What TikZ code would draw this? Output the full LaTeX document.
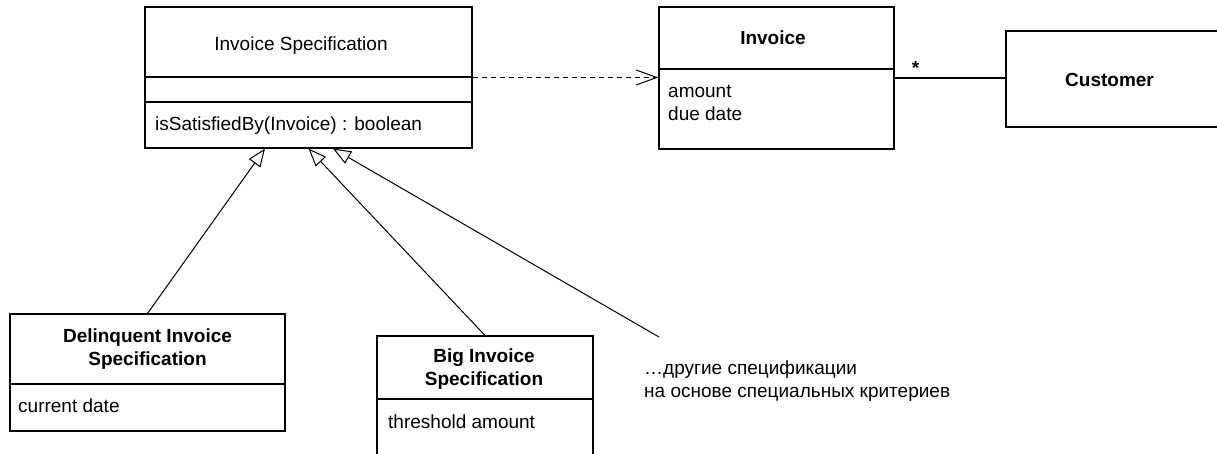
\documentclass[tikz,border=0pt]{standalone}
\usepackage{fontspec}
\setmainfont{Liberation Sans}
\usetikzlibrary{arrows.meta,positioning}

\begin{document}
\begin{tikzpicture}[x=1pt,y=-1pt,
    every node/.style={inner sep=0pt, font=\fontsize{19}{22.5}\selectfont},
    bold/.style={font=\fontsize{19}{22.5}\selectfont\bfseries},
    classbox/.style={draw, line width=1.1pt, rectangle},
    gen/.style={line width=1pt, -{Triangle[open, length=18pt, width=14pt, line width=1pt]}},
    dep/.style={line width=1pt, dash pattern=on 5pt off 4pt, -{Straight Barb[length=21pt, width=15pt, line width=1pt]}},
    assoc/.style={line width=1.1pt}]
        \clip (0,0) rectangle (1217,453);

        % classes
        \node[classbox, minimum width=327pt, minimum height=141pt] (spec) at (308.5,77.5) {};
        \node[classbox, minimum width=235pt, minimum height=142pt] (invoice) at (776.5,78) {};
        \node[classbox, minimum width=216pt, minimum height=96pt] (customer) at (1114,79) {};
        \node[classbox, minimum width=275pt, minimum height=117pt] (delinq) at (147.5,372.5) {};
        \node[classbox, minimum width=216pt, minimum height=134pt] (big) at (485,403) {};

        \draw[line width=1.1pt] (spec.west |- 0,77) -- (spec.east |- 0,77);
        \draw[line width=1.1pt] (spec.west |- 0,102) -- (spec.east |- 0,102);
        \draw[line width=1.1pt] (invoice.west |- 0,69) -- (invoice.east |- 0,69);
        \draw[line width=1.1pt] (delinq.west |- 0,384) -- (delinq.east |- 0,384);
        \draw[line width=1.1pt] (big.west |- 0,399) -- (big.east |- 0,399);

        % texts
        \node[anchor=base] (specname) at (301,50) {Invoice Specification};
        \node[anchor=base west] (specop) at (155,130) {isSatisfiedBy(Invoice) : boolean};
        \node[bold, anchor=base] (invname) at (773,44) {Invoice};
        \node[anchor=north west, align=left] (invattr) at (668,85.5) {amount\\due date};
        \node[bold, anchor=base] (custname) at (1109.5,86) {Customer};
        \node[bold, anchor=north, align=center] (delname) at (147.5,329) {Delinquent Invoice\\Specification};
        \node[anchor=base west] (delattr) at (18,412.7) {current date};
        \node[bold, anchor=north, align=center] (bigname) at (484,349) {Big Invoice\\Specification};
        \node[anchor=base west] (bigattr) at (388,428) {threshold amount};
        \node[anchor=north west, align=left] (others) at (644,361) {…другие спецификации\\на основе специальных критериев};

        % connectors
        \coordinate (othersend) at (659,337);
        \draw[dep] (spec.east) -- (spec.east -| invoice.west);
        \draw[assoc] (invoice.east) -- node[bold, pos=0.19, anchor=base, yshift=4pt] (many) {*} (invoice.east -| customer.west);
        \draw[gen] (delinq.north) -- ([xshift=-43.5pt]spec.south);
        \draw[gen] (big.north) -- (spec.south);
        \draw[gen] (othersend) -- ([xshift=24.5pt]spec.south);
\end{tikzpicture}
\end{document}
